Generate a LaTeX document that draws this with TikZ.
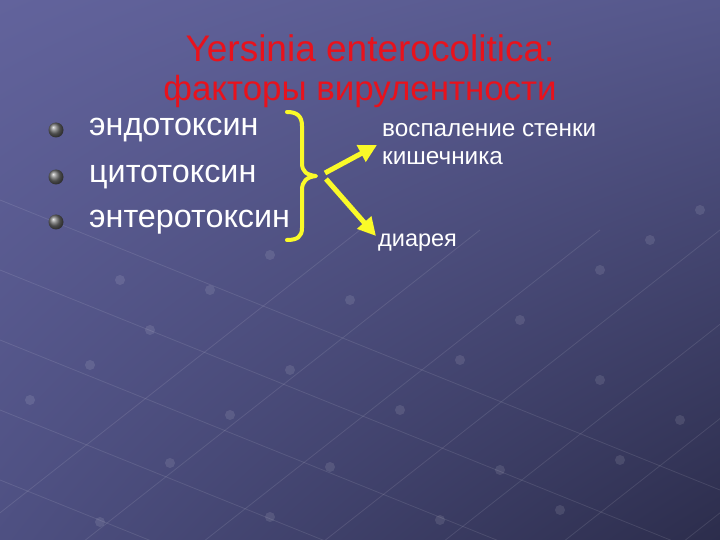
\documentclass[tikz,border=0pt]{standalone}
\usepackage{fontspec}
\setmainfont{Liberation Sans}
\usetikzlibrary{arrows.meta,shadings}
\definecolor{bgTL}{RGB}{98,99,156}
\definecolor{bgTR}{RGB}{86,88,140}
\definecolor{bgBL}{RGB}{78,80,130}
\definecolor{bgBR}{RGB}{44,45,76}
\definecolor{titlered}{RGB}{232,18,28}
\definecolor{braceyellow}{RGB}{250,250,40}
\tikzset{
  titletext/.style={text=titlered, inner sep=0pt, align=center},
  itemtext/.style={text=white, font=\fontsize{32.3}{36}\selectfont, inner sep=0pt, anchor=west},
  sidetext/.style={text=white, font=\fontsize{24.3}{28}\selectfont, inner sep=0pt, anchor=west, align=left},
  bulletball/.style={ball color=gray!85!black, draw=none},
  gridline/.style={white, opacity=0.10, line width=0.8pt},
  griddot/.style={fill=white, opacity=0.10},
  bracepath/.style={braceyellow, line width=4pt, line cap=round, line join=round},
  arrowpath/.style={braceyellow, line width=5pt, -{Triangle[length=18pt,width=18pt]}}
}
\begin{document}
\begin{tikzpicture}[x=1pt,y=-1pt]
\useasboundingbox (0,0) rectangle (720,540);
\shade[upper left=bgTL, upper right=bgTR, lower left=bgBL, lower right=bgBR] (0,0) rectangle (720,540);
% faint perspective grid
\foreach \x in {-60,60,180,300,420,540,660,780}{
  \draw[gridline] (\x,560) -- ++(420,-330);
}
\foreach \y in {200,270,340,410,480,550,620}{
  \draw[gridline] (0,\y) -- ++(720,290);
}
\foreach \x/\y in {100/522, 170/463, 230/415, 290/370, 330/467, 270/517, 400/410, 460/360, 520/320, 600/270, 650/240, 700/210, 560/510, 620/460, 680/420, 30/400, 90/365, 150/330, 210/290, 270/255, 120/280, 350/300, 440/520, 500/470, 600/380}{
  \fill[griddot] (\x,\y) circle (5);
}
% title
\node[titletext, font=\fontsize{37}{42}\selectfont] (t1) at (370,48) {Yersinia enterocolitica:};
\node[titletext, font=\fontsize{34.9}{42}\selectfont] (t2) at (360,91) {факторы вирулентности};
% bullets and items
\shade[bulletball] (56,130) circle (7.5);
\shade[bulletball] (56,177) circle (7.5);
\shade[bulletball] (56,222) circle (7.5);
\node[itemtext] (i1) at (89,130) {эндотоксин};
\node[itemtext] (i2) at (89,177) {цитотоксин};
\node[itemtext] (i3) at (89,222) {энтеротоксин};
% brace
\draw[bracepath] (287,112) .. controls (297,112) and (302,116) .. (302,126)
  -- (302,163) .. controls (302,172) and (307,175) .. (316,176)
  .. controls (307,177) and (302,181) .. (302,190)
  -- (302,228) .. controls (302,237) and (297,240) .. (287,240);
\coordinate (tipA) at (325,173);
\coordinate (tipB) at (326,179);
% right texts
\node[sidetext] (r1) at (382,144) {воспаление стенки\\кишечника};
\node[sidetext, font=\fontsize{23.5}{28}\selectfont] (r2) at (378,243) {диарея};
\coordinate (endA) at (377,145);
\coordinate (endB) at (376,236);
\draw[arrowpath] (tipA) -- (endA);
\draw[arrowpath] (tipB) -- (endB);
\end{tikzpicture}
\end{document}
